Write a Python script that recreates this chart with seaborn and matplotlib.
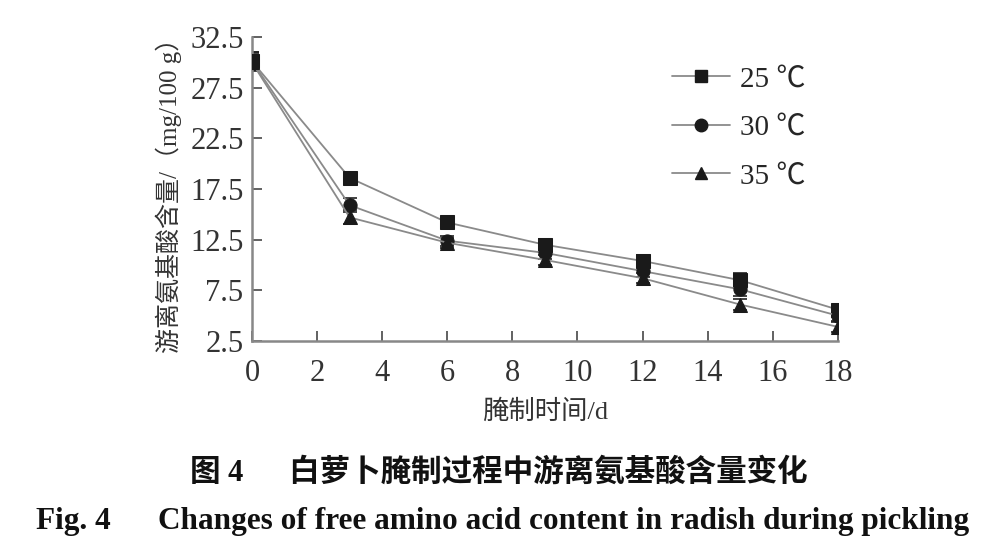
import matplotlib
matplotlib.use("Agg")
import matplotlib.pyplot as plt
from matplotlib.lines import Line2D
import pandas as pd
import seaborn as sns

days = [0, 3, 6, 9, 12, 15, 18]
temps = ["25 ℃", "30 ℃", "35 ℃"]
amino_25 = [30.1, 18.6, 14.2, 12.0, 10.4, 8.5, 5.6]
amino_30 = [30.1, 15.9, 12.4, 11.2, 9.4, 7.6, 5.0]
amino_35 = [30.0, 14.7, 12.2, 10.5, 8.7, 6.1, 3.9]
err_25 = [0.9, 0.5, 0.5, 0.6, 0.6, 0.7, 0.5]
err_30 = [0.9, 0.7, 0.5, 0.6, 0.6, 0.7, 0.5]
err_35 = [0.9, 0.7, 0.5, 0.5, 0.5, 0.5, 0.5]

sns.set_style("ticks")
plt.rcParams["font.family"] = ["Liberation Serif", "Noto Sans CJK SC"]

df = pd.DataFrame({
    "day": days * 3,
    "amino": amino_25 + amino_30 + amino_35,
    "err": err_25 + err_30 + err_35,
    "temp": [t for t in temps for _ in days],
})

fig = plt.figure(figsize=(9.88, 5.6), dpi=100)
ax = fig.add_axes([0.255, 0.391, 0.593, 0.543])

markers = {"25 ℃": "s", "30 ℃": "o", "35 ℃": "^"}
for t in temps:
    sub = df[df["temp"] == t]
    ax.errorbar(sub["day"], sub["amino"], yerr=sub["err"], fmt="none",
                ecolor="#222222", elinewidth=1.2, capsize=5, capthick=1.2, zorder=2)
sns.lineplot(data=df, x="day", y="amino", style="temp", markers=markers,
             dashes=False, color="#8a8a8a", linewidth=1.3, markersize=9.5,
             markerfacecolor="#1a1a1a", markeredgecolor="#1a1a1a",
             ax=ax, zorder=3, legend=False)

handles = [Line2D([0], [0], color="#8a8a8a", lw=1.3, marker=markers[t],
                  markersize=9, markerfacecolor="#1a1a1a",
                  markeredgecolor="#1a1a1a") for t in temps]
ax.legend(handles, temps, loc="upper right", bbox_to_anchor=(0.99, 0.99),
          frameon=False, fontsize=21, handlelength=2.0, labelspacing=0.75,
          handletextpad=0.35)

ax.set_xlim(0, 18)
ax.set_ylim(2.5, 32.5)
ax.set_xticks(range(0, 19, 2))
ax.set_yticks([2.5, 7.5, 12.5, 17.5, 22.5, 27.5, 32.5])
ax.set_yticklabels(["2.5", "7.5", "12.5", "17.5", "22.5", "27.5", "32.5"])
ax.tick_params(direction="in", length=7, width=1.3, color="#555555",
               labelsize=22, labelcolor="#333333", pad=6)
ax.tick_params(axis="x", pad=13)
for s in ["top", "right"]:
    ax.spines[s].set_visible(False)
for s in ["left", "bottom"]:
    ax.spines[s].set_color("#888888")
    ax.spines[s].set_linewidth(1.8)

ax.set_xlabel("腌制时间/d", fontsize=19, color="#333333", labelpad=8)
ax.set_ylabel("游离氨基酸含量/（mg/100 g）", fontsize=18, color="#333333", labelpad=6)

fig.text(0.505, 0.155, "图 4      白萝卜腌制过程中游离氨基酸含量变化", ha="center",
         va="center", fontsize=22, fontweight="bold", color="#111111")
fig.text(0.509, 0.068, "Fig. 4      Changes of free amino acid content in radish during pickling",
         ha="center", va="center", fontsize=22.5, fontweight="bold", color="#111111")

fig.savefig("out.png", dpi=100)
